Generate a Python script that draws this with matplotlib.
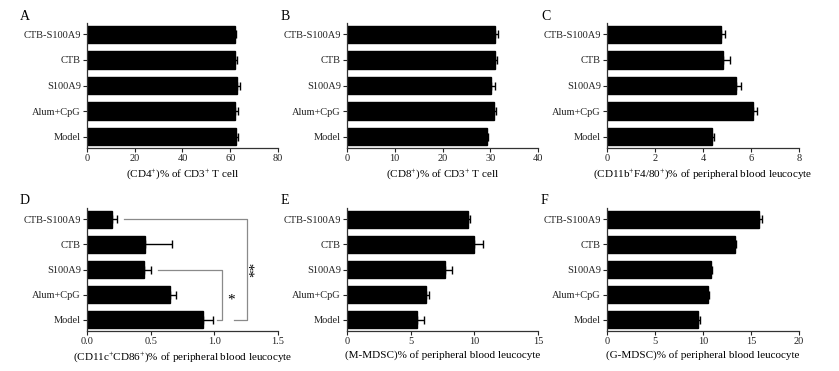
import matplotlib
matplotlib.use('Agg')
import matplotlib.pyplot as plt

plt.rcParams['font.family'] = ['Liberation Serif', 'DejaVu Serif']
plt.rcParams['mathtext.fontset'] = 'custom'
plt.rcParams['mathtext.rm'] = 'Liberation Serif'
plt.rcParams['mathtext.it'] = 'Liberation Serif:italic'
plt.rcParams['mathtext.bf'] = 'Liberation Serif:bold'

groups = ['Model', 'Alum+CpG', 'S100A9', 'CTB', 'CTB-S100A9']

# values listed bottom -> top (Model first)
cd4 = [62.3, 62.0, 62.8, 62.0, 62.1]
cd4_err = [1.0, 1.3, 1.1, 1.0, 0.5]
cd8 = [29.3, 30.7, 30.2, 30.9, 30.9]
cd8_err = [0.15, 0.4, 0.8, 0.5, 0.7]
f480 = [4.37, 6.07, 5.37, 4.82, 4.75]
f480_err = [0.10, 0.19, 0.21, 0.30, 0.15]
cd86 = [0.909, 0.652, 0.447, 0.452, 0.198]
cd86_err = [0.08, 0.05, 0.056, 0.216, 0.035]
mmdsc = [5.53, 6.23, 7.71, 10.0, 9.48]
mmdsc_err = [0.50, 0.19, 0.52, 0.65, 0.18]
gmdsc = [9.5, 10.53, 10.84, 13.29, 15.8]
gmdsc_err = [0.17, 0.11, 0.14, 0.17, 0.3]

panels = [
    ('A', cd4, cd4_err, [0, 20, 40, 60, 80], ['0', '20', '40', '60', '80'],
     '(CD4$^{+}$)% of CD3$^{+}$ T cell'),
    ('B', cd8, cd8_err, [0, 10, 20, 30, 40], ['0', '10', '20', '30', '40'],
     '(CD8$^{+}$)% of CD3$^{+}$ T cell'),
    ('C', f480, f480_err, [0, 2, 4, 6, 8], ['0', '2', '4', '6', '8'],
     '(CD11b$^{+}$F4/80$^{+}$)% of peripheral blood leucocyte'),
    ('D', cd86, cd86_err, [0, 0.5, 1.0, 1.5], ['0.0', '0.5', '1.0', '1.5'],
     '(CD11c$^{+}$CD86$^{+}$)% of peripheral blood leucocyte'),
    ('E', mmdsc, mmdsc_err, [0, 5, 10, 15], ['0', '5', '10', '15'],
     '(M-MDSC)% of peripheral blood leucocyte'),
    ('F', gmdsc, gmdsc_err, [0, 5, 10, 15, 20], ['0', '5', '10', '15', '20'],
     '(G-MDSC)% of peripheral blood leucocyte'),
]

W, H = 839, 371
fig = plt.figure(figsize=(W / 100, H / 100), dpi=100)

lefts = [87, 347, 607]
widths = [191, 191, 192]
rows = [(23, 148), (208, 331)]
letter_x = [20, 281, 541]
letter_y = [16, 201]

axes = []
for k, (letter, vals, errs, ticks, tlabels, xlabel) in enumerate(panels):
    r, c = divmod(k, 3)
    top, bot = rows[r]
    ax = fig.add_axes([lefts[c] / W, 1 - bot / H, widths[c] / W, (bot - top) / H])
    y = range(len(groups))
    ax.barh(y, vals, height=0.68, color='black', edgecolor='black', zorder=2)
    ax.errorbar(vals, y, xerr=[[0] * len(errs), errs], fmt='none', ecolor='black',
                elinewidth=1.0, capsize=3, capthick=1.0, zorder=3)
    ax.set_yticks(list(y))
    ax.set_yticklabels(groups, fontsize=7.5)
    ax.set_xticks(ticks)
    ax.set_xticklabels(tlabels, fontsize=7.5)
    ax.set_xlim(ticks[0], ticks[-1])
    ax.set_ylim(-0.45, 4.45)
    ax.set_xlabel(xlabel, fontsize=8, labelpad=3)
    for s in ['top', 'right']:
        ax.spines[s].set_visible(False)
    for s in ['left', 'bottom']:
        ax.spines[s].set_linewidth(0.9)
        ax.spines[s].set_color('#333333')
    ax.tick_params(axis='both', length=3, width=0.8, pad=1.5, colors='#222222')
    fig.text(letter_x[c] / W, 1 - letter_y[r] / H, letter, fontsize=10, va='center', ha='left')
    axes.append(ax)

# significance brackets in panel D
axd = axes[3]
br_col = '#8a8a8a'
axd.plot([0.29, 1.254, 1.254, 1.155], [4, 4, 0, 0], color=br_col, lw=0.9, clip_on=False)
axd.plot([0.561, 1.061, 1.061, 1.021], [2, 2, 0, 0], color=br_col, lw=0.9, clip_on=False)
axd.text(1.128, 0.8, '*', fontsize=11, ha='center', va='center')
axd.text(1.32, 2.0, '**', fontsize=11, ha='center', va='center', rotation=90)

fig.savefig('out.png', dpi=100)
